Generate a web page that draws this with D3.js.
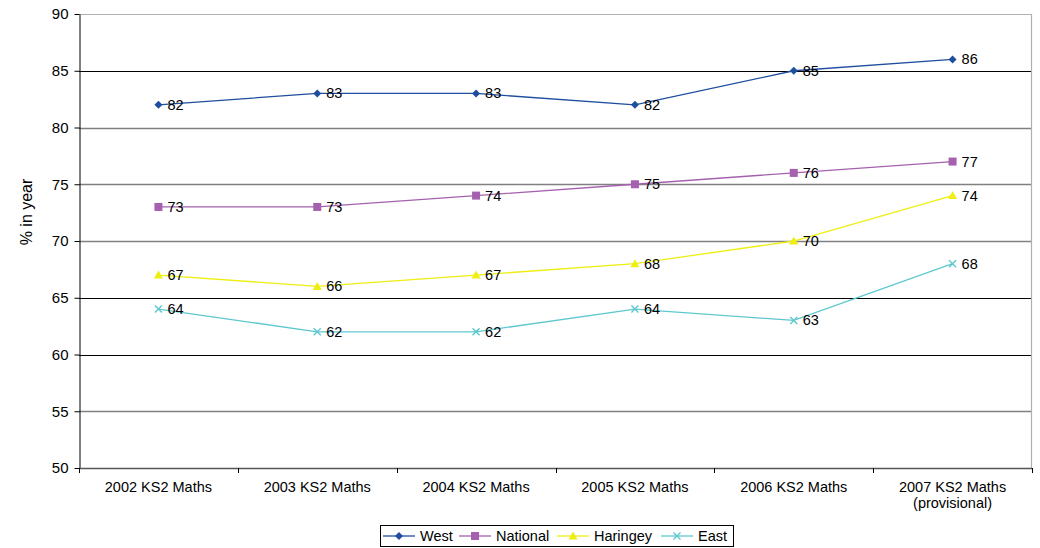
<!DOCTYPE html>
<html>
<head>
<meta charset="utf-8">
<script src="https://cdn.jsdelivr.net/npm/d3@7"></script>
<style>
  html, body { margin: 0; padding: 0; background: #fff; }
  svg { display: block; font-family: Arial, "Liberation Sans", sans-serif; }
</style>
</head>
<body>
<svg id="chart" width="1040" height="548"></svg>
<script>
// KS2 Maths results by year
const categories = [
  ["2002 KS2 Maths"],
  ["2003 KS2 Maths"],
  ["2004 KS2 Maths"],
  ["2005 KS2 Maths"],
  ["2006 KS2 Maths"],
  ["2007 KS2 Maths", "(provisional)"]
];
const west     = [82, 83, 83, 82, 85, 86];
const national = [73, 73, 74, 75, 76, 77];
const haringey = [67, 66, 67, 68, 70, 74];
const east     = [64, 62, 62, 64, 63, 68];
const yTicks   = [50, 55, 60, 65, 70, 75, 80, 85, 90];
const yTitle   = "% in year";

const seriesList = [
  { name: "West",     values: west,     color: "#1f4e9e", marker: "diamond" },
  { name: "National", values: national, color: "#a560ae", marker: "square" },
  { name: "Haringey", values: haringey, color: "#eeee11", marker: "triangle" },
  { name: "East",     values: east,     color: "#5ec8cf", marker: "cross" }
];

const svg = d3.select("#chart");
const plot = { left: 79, right: 1032, top: 14, bottom: 468 };

const x = d3.scaleBand()
  .domain(d3.range(categories.length))
  .range([plot.left, plot.right])
  .paddingInner(0).paddingOuter(0);

const y = d3.scaleLinear().domain([50, 90]).range([plot.bottom, plot.top]);

// Horizontal gridlines (alternating weights as printed)
const darkLines = new Set([85, 65, 60]);
svg.append("g").selectAll("line")
  .data(yTicks.filter(t => t !== 50 && t !== 90))
  .join("line")
  .attr("x1", plot.left).attr("x2", plot.right)
  .attr("y1", d => Math.round(y(d)) + 0.5).attr("y2", d => Math.round(y(d)) + 0.5)
  .attr("stroke", d => darkLines.has(d) ? "#000" : "#808080")
  .attr("stroke-width", d => darkLines.has(d) ? 1 : 1.4);

// Plot area border (top and right)
svg.append("line")
  .attr("x1", plot.left).attr("x2", plot.right)
  .attr("y1", plot.top + 0.5).attr("y2", plot.top + 0.5)
  .attr("stroke", "#b0b0b0").attr("stroke-width", 1.2);
svg.append("line")
  .attr("x1", plot.right - 0.5).attr("x2", plot.right - 0.5)
  .attr("y1", plot.top).attr("y2", plot.bottom)
  .attr("stroke", "#b0b0b0").attr("stroke-width", 1.2);

// Y axis
const yAxis = svg.append("g")
  .attr("transform", `translate(${plot.left + 0.5},0)`)
  .call(d3.axisLeft(y).tickValues(yTicks).tickSize(5).tickPadding(6).tickSizeOuter(0));
yAxis.select(".domain").attr("stroke", "#000");
yAxis.selectAll(".tick line").attr("stroke", "#000");
yAxis.selectAll(".tick text").attr("font-size", 15).attr("fill", "#000")
  .attr("font-family", "Arial, 'Liberation Sans', sans-serif");

// X axis baseline and tick marks at category boundaries
svg.append("line")
  .attr("x1", plot.left).attr("x2", plot.right)
  .attr("y1", plot.bottom + 0.5).attr("y2", plot.bottom + 0.5)
  .attr("stroke", "#555").attr("stroke-width", 1.5);
const boundaries = d3.range(categories.length + 1).map(i => i < categories.length ? x(i) : x(i - 1) + x.bandwidth());
svg.append("g").selectAll("line").data(boundaries).join("line")
  .attr("x1", d => Math.round(d) + 0.5).attr("x2", d => Math.round(d) + 0.5)
  .attr("y1", plot.bottom).attr("y2", plot.bottom + 5)
  .attr("stroke", "#000");

// Category labels
const xLabels = svg.append("g").selectAll("text").data(categories).join("text")
  .attr("x", (d, i) => x(i) + x.bandwidth() / 2)
  .attr("y", 492)
  .attr("text-anchor", "middle")
  .attr("font-size", 14.5)
  .attr("fill", "#000");
xLabels.selectAll("tspan").data(d => d).join("tspan")
  .attr("x", function () { return d3.select(this.parentNode).attr("x"); })
  .attr("dy", (d, i) => i === 0 ? 0 : 16)
  .text(d => d);

// Y axis title
svg.append("text")
  .attr("transform", "translate(32,212) rotate(-90)")
  .attr("text-anchor", "middle")
  .attr("font-size", 16)
  .attr("fill", "#000")
  .text(yTitle);

// Marker shapes
function drawMarker(g, type, color, cx, cy) {
  if (type === "diamond") {
    g.append("path").attr("d", `M${cx},${cy - 4}L${cx + 4},${cy}L${cx},${cy + 4}L${cx - 4},${cy}Z`).attr("fill", color);
  } else if (type === "square") {
    g.append("rect").attr("x", cx - 4).attr("y", cy - 4).attr("width", 8).attr("height", 8).attr("fill", color);
  } else if (type === "triangle") {
    g.append("path").attr("d", `M${cx},${cy - 4.5}L${cx + 4.5},${cy + 3.5}L${cx - 4.5},${cy + 3.5}Z`).attr("fill", color);
  } else if (type === "cross") {
    g.append("path").attr("d", `M${cx - 3.5},${cy - 3.5}L${cx + 3.5},${cy + 3.5}M${cx - 3.5},${cy + 3.5}L${cx + 3.5},${cy - 3.5}`)
      .attr("stroke", color).attr("stroke-width", 1.4).attr("fill", "none");
  }
}

const line = d3.line()
  .x((d, i) => x(i) + x.bandwidth() / 2)
  .y(d => y(d));

seriesList.forEach(s => {
  const g = svg.append("g");
  g.append("path")
    .attr("d", line(s.values))
    .attr("fill", "none")
    .attr("stroke", s.color)
    .attr("stroke-width", 1.3);
  s.values.forEach((v, i) => drawMarker(g, s.marker, s.color, x(i) + x.bandwidth() / 2, y(v)));
  g.selectAll("text.val").data(s.values).join("text")
    .attr("class", "val")
    .attr("x", (d, i) => x(i) + x.bandwidth() / 2 + 9)
    .attr("y", d => y(d) + 5)
    .attr("font-size", 14.5)
    .attr("fill", "#000")
    .text(d => d);
});

// Legend
const legend = svg.append("g");
legend.append("rect")
  .attr("x", 380.5).attr("y", 525.5).attr("width", 353).attr("height", 21)
  .attr("fill", "#fff").attr("stroke", "#000");
const legendPos = [383, 459, 557, 661];
seriesList.forEach((s, i) => {
  const lx = legendPos[i], ly = 536;
  legend.append("line").attr("x1", lx).attr("x2", lx + 32).attr("y1", ly).attr("y2", ly)
    .attr("stroke", s.color).attr("stroke-width", 1.3);
  drawMarker(legend, s.marker, s.color, lx + 16, ly);
  legend.append("text").attr("x", lx + 37).attr("y", ly + 5)
    .attr("font-size", 14.5).attr("fill", "#000").text(s.name);
});
</script>
</body>
</html>
